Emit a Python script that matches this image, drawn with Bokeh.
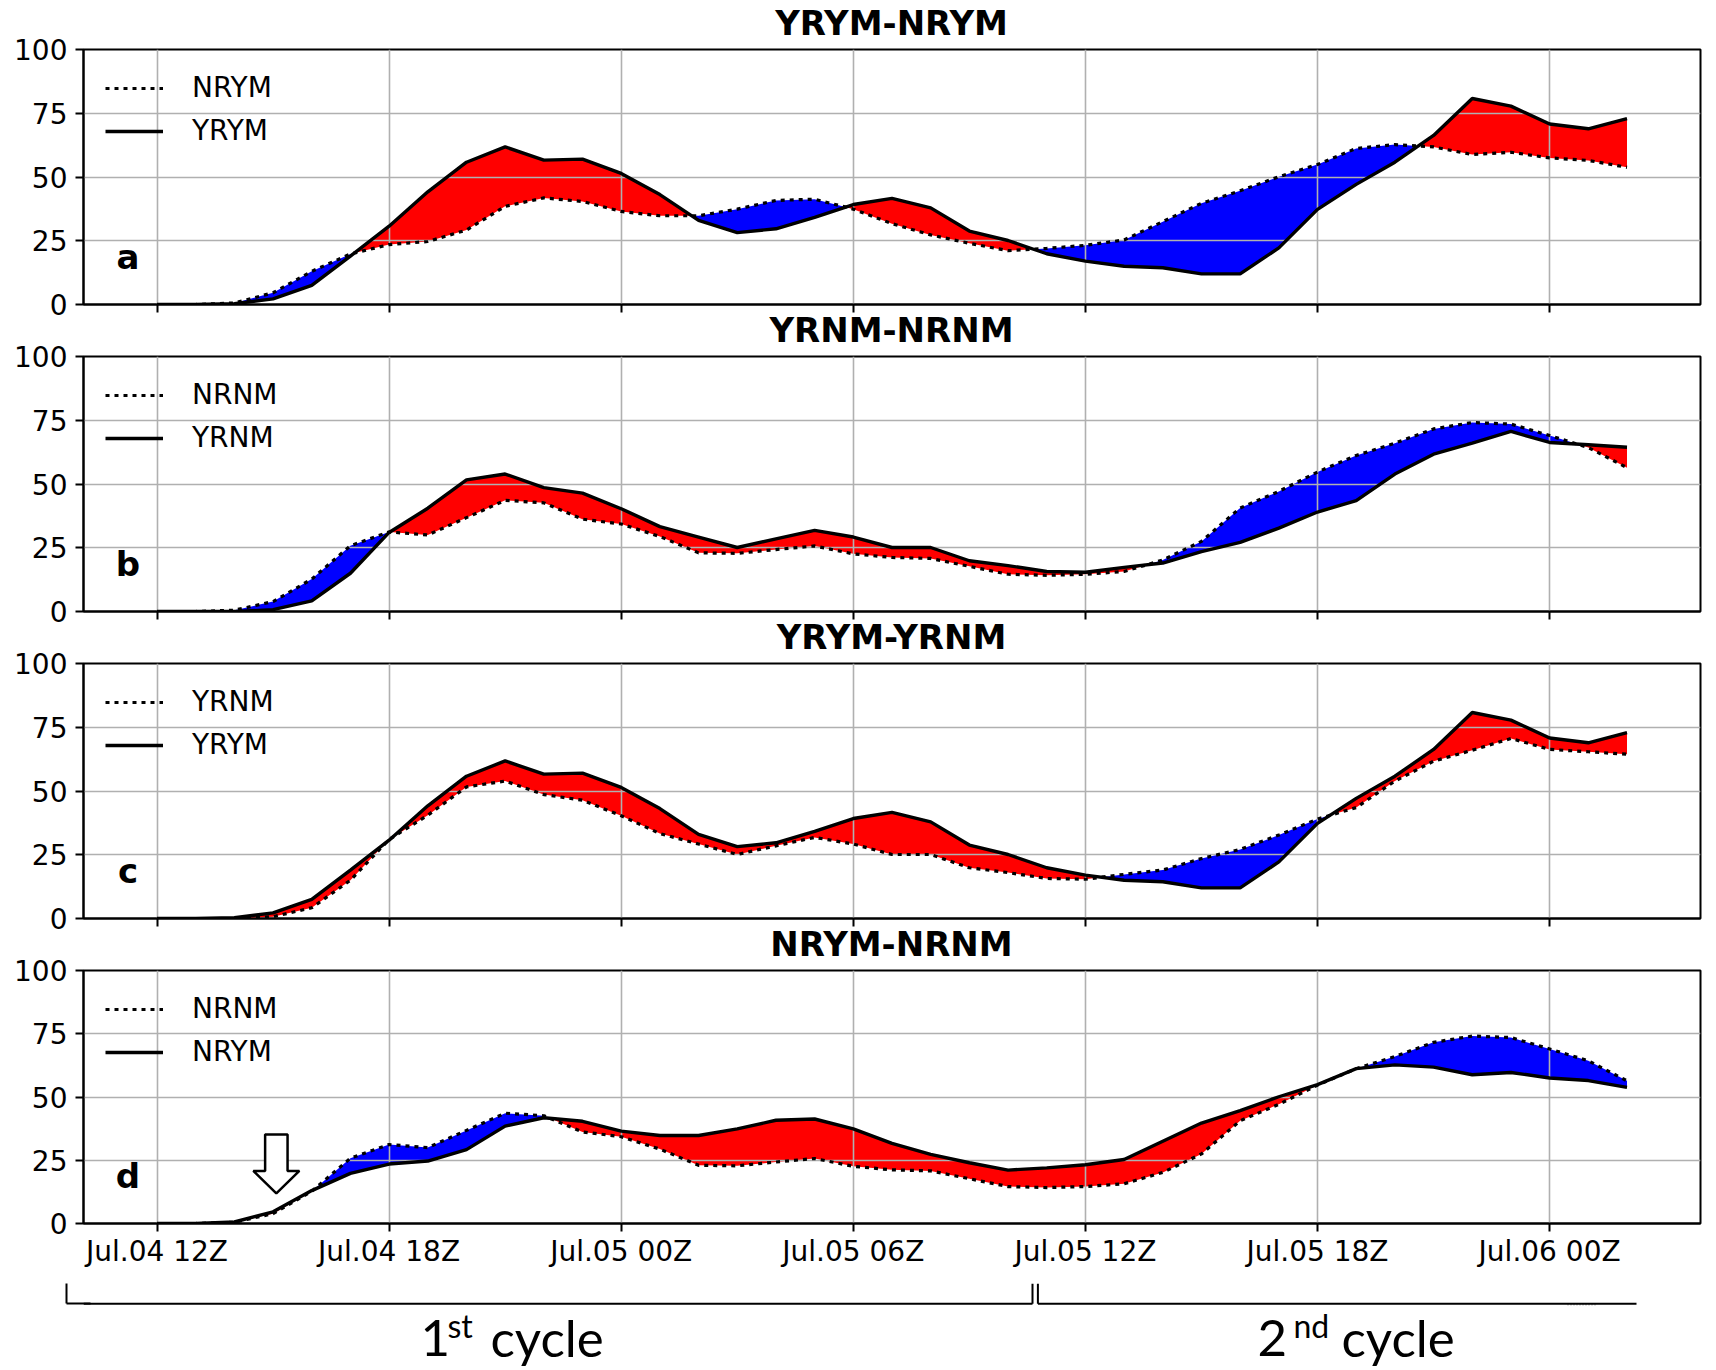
import numpy as np
from bokeh.plotting import figure
from bokeh.layouts import column
from bokeh.models import (Range1d, FixedTicker, Legend, LegendItem, Label,
                          Arrow, Div, Spacer, LinearAxis)
from bokeh.embed import file_html
from bokeh.resources import INLINE
from bokeh.core.properties import value

# ---------------- data (hourly, hours since Jul.04 12Z) ----------------
hours = list(range(39))
YRYM = [0, 0, 0.3, 2.2, 7.5, 19.0, 30.7, 44.2, 55.8, 61.8,
        56.6, 57.0, 51.4, 43.1, 33.0, 28.2, 29.7, 34.2, 39.2, 41.6,
        37.9, 28.8, 25.1, 19.9, 17.0, 15.0, 14.4, 12.0, 12.0, 22.2,
        37.3, 47.1, 55.8, 66.3, 80.8, 77.8, 70.8, 68.9, 72.9]
NRYM = [0, 0, 0.6, 4.6, 13.0, 19.8, 23.5, 24.7, 29.2, 38.5,
        41.8, 40.4, 36.5, 34.8, 34.8, 37.4, 40.8, 41.3, 37.4, 31.7,
        27.3, 24.0, 21.1, 22.0, 23.2, 25.3, 32.5, 39.7, 44.6, 50.1,
        54.9, 61.2, 62.7, 61.8, 58.8, 59.7, 57.5, 56.5, 53.8]
YRNM = [0, 0, 0, 0.7, 4.2, 15.0, 31.0, 40.5, 51.6, 53.9,
        48.6, 46.4, 40.3, 33.3, 29.2, 25.1, 28.5, 31.8, 29.2, 25.1,
        25.1, 19.9, 18.0, 15.7, 15.4, 17.3, 19.0, 23.5, 27.1, 32.7,
        39.0, 43.5, 53.9, 61.7, 66.0, 70.6, 66.3, 65.4, 64.4]
NRNM = [0, 0, 0.5, 3.9, 12.7, 25.8, 31.2, 30.0, 36.8, 43.6,
        42.6, 36.2, 34.3, 29.4, 23.0, 22.8, 24.3, 25.7, 22.6, 21.2,
        20.8, 17.7, 14.6, 14.2, 14.6, 15.7, 20.2, 27.5, 40.6, 47.1,
        54.7, 61.2, 66.0, 71.6, 74.1, 73.5, 69.0, 64.3, 56.4]

tick_hours = [0, 6, 12, 18, 24, 30, 36]
tick_labels = ["Jul.04 12Z", "Jul.04 18Z", "Jul.05 00Z", "Jul.05 06Z",
               "Jul.05 12Z", "Jul.05 18Z", "Jul.06 00Z"]
y_ticks = [0, 25, 50, 75, 100]

series = {"YRYM": YRYM, "NRYM": NRYM, "YRNM": YRNM, "NRNM": NRNM}
# (title, panel letter, solid series, dotted series)
panels = [("YRYM-NRYM", "a", "YRYM", "NRYM"),
          ("YRNM-NRNM", "b", "YRNM", "NRNM"),
          ("YRYM-YRNM", "c", "YRYM", "YRNM"),
          ("NRYM-NRNM", "d", "NRYM", "NRNM")]

cycle_labels = [("1", "st", "cycle"), ("2", "nd", "cycle")]

# ---------------- helpers ----------------
def split_fill(x, solid, dotted):
    xs, s, d = [x[0]], [solid[0]], [dotted[0]]
    for i in range(1, len(x)):
        d0 = solid[i - 1] - dotted[i - 1]
        d1 = solid[i] - dotted[i]
        if d0 * d1 < 0:
            t = d0 / (d0 - d1)
            xc = x[i - 1] + t * (x[i] - x[i - 1])
            yc = dotted[i - 1] + t * (dotted[i] - dotted[i - 1])
            xs.append(xc); s.append(yc); d.append(yc)
        xs.append(x[i]); s.append(solid[i]); d.append(dotted[i])
    return np.array(xs, float), np.array(s, float), np.array(d, float)


FONT = "DejaVu Sans"
W = 1716
BL, BR = 83, 16
FW = W - BL - BR
x_range = Range1d(-1.9, 39.9)
items = [Spacer(width=W, height=9, margin=0)]


def title_div(txt):
    html = ('<div style="width:%dpx;margin-left:%dpx;text-align:center;'
            'font-family:\'DejaVu Sans\';font-weight:bold;font-size:34px;'
            'line-height:29px;height:29px;color:black;white-space:nowrap;">'
            '%s</div>' % (FW, BL, txt))
    return Div(text=html, width=W, height=29, margin=0)


for k, (title, letter, sname, dname) in enumerate(panels):
    last = (k == len(panels) - 1)
    mt = 11
    mb = 45 if last else 12
    items.append(title_div(title))
    p = figure(width=W, height=mt + 255 + mb,
               x_range=x_range, y_range=Range1d(0, 100),
               output_backend="svg", toolbar_location=None,
               min_border_left=BL, min_border_right=BR,
               min_border_top=mt, min_border_bottom=mb)
    p.background_fill_color = "white"
    p.border_fill_color = "white"
    p.outline_line_color = "black"
    p.outline_line_width = 2
    p.outline_line_alpha = 1

    solid = series[sname]
    dotted = series[dname]
    xs, s, d = split_fill(hours, solid, dotted)
    r1 = p.varea(x=xs, y1=d, y2=np.maximum(s, d), fill_color="#ff0000")
    r2 = p.varea(x=xs, y1=np.minimum(s, d), y2=d, fill_color="#0000ff")
    r1.level = "image"
    r2.level = "image"

    ld = p.line(hours, dotted, line_color="black", line_width=3.2,
                line_dash="4 5")
    ls = p.line(hours, solid, line_color="black", line_width=3.4)

    # axes
    for ax in (p.xaxis[0], p.yaxis[0]):
        ax.axis_line_color = "black"
        ax.axis_line_width = 2
        ax.major_tick_line_width = 2
        ax.major_tick_out = 8
        ax.major_tick_in = 0
        ax.minor_tick_line_color = None
        ax.major_label_text_font = FONT
        ax.major_label_text_color = "black"
    p.yaxis.ticker = FixedTicker(ticks=y_ticks)
    p.yaxis.major_label_text_font_size = "28px"
    p.yaxis.major_label_standoff = 8
    p.xaxis.ticker = FixedTicker(ticks=tick_hours)
    if last:
        p.xaxis.major_label_overrides = {h: t for h, t in zip(tick_hours, tick_labels)}
        p.xaxis.major_label_text_font_size = "28px"
        p.xaxis.major_label_standoff = 3
    else:
        p.xaxis.major_label_text_font_size = "0px"
        p.xaxis.major_label_standoff = 0
        p.xaxis.major_label_overrides = {h: "" for h in tick_hours}

    p.xgrid.ticker = FixedTicker(ticks=tick_hours)
    p.ygrid.ticker = FixedTicker(ticks=y_ticks)
    p.grid.grid_line_color = "#b0b0b0"
    p.grid.grid_line_width = 1.6

    legend = Legend(items=[LegendItem(label=dname, renderers=[ld]),
                           LegendItem(label=sname, renderers=[ls])],
                    location="top_left", margin=22, padding=0,
                    spacing=10, glyph_width=58, glyph_height=28,
                    label_height=28, label_standoff=29,
                    border_line_color=None, background_fill_alpha=0,
                    label_text_font=FONT, label_text_font_size="28px",
                    label_text_color="black")
    p.add_layout(legend)

    p.add_layout(Label(x=-0.75, y=18.6, text=letter, text_align="center",
                       text_baseline="middle", text_font=FONT,
                       text_font_style="bold", text_font_size="34px",
                       text_color="black"))

    if letter == "d":
        ax_c, sw, hw = 3.085, 0.29, 0.595
        p.patch(x=[ax_c - sw, ax_c + sw, ax_c + sw, ax_c + hw, ax_c,
                   ax_c - hw, ax_c - sw],
                y=[35.2, 35.2, 20.8, 20.8, 11.9, 20.8, 20.8],
                fill_color="white", line_color="black", line_width=2.5)
    items.append(p)

# ---------------- bottom annotation (cycles); coords in page pixels ----------------
q = figure(width=W, height=100, x_range=Range1d(BL, W - BR),
           y_range=Range1d(100, 0), output_backend="svg",
           toolbar_location=None, x_axis_location=None,
           y_axis_location=None,
           min_border_left=BL, min_border_right=BR,
           min_border_top=0, min_border_bottom=0)
q.grid.visible = False
q.outline_line_color = None
q.background_fill_color = "white"
q.border_fill_color = "white"

# left end of the first bracket lies left of the frame: draw it with two
# left-side axes (an invisible spacer axis and a bounded axis line)
inner = LinearAxis(ticker=FixedTicker(ticks=[50]), major_tick_out=17,
                   major_tick_in=0, major_tick_line_color=None,
                   axis_line_color=None, minor_tick_line_color=None,
                   major_label_text_font_size="0px", major_label_standoff=0,
                   major_label_overrides={50: ""})
outer = LinearAxis(ticker=FixedTicker(ticks=[33.3]), bounds=(13.3, 33.3),
                   major_tick_out=0, major_tick_in=24,
                   major_tick_line_color="black", major_tick_line_width=2,
                   axis_line_color="black", axis_line_width=2,
                   minor_tick_line_color=None,
                   major_label_text_font_size="0px", major_label_standoff=0,
                   major_label_overrides={33.3: ""})
q.add_layout(inner, "left")
q.add_layout(outer, "left")

brackets = [(BL, 33.3, 1032, 33.3), (1032, 33.3, 1032, 13.3),
            (1037.4, 13.3, 1037.4, 33.3), (1037.4, 33.3, 1636, 33.3)]
for x0, y0, x1, y1 in brackets:
    q.add_layout(Arrow(x_start=x0, y_start=y0, x_end=x1, y_end=y1,
                       start=None, end=None, line_color="black",
                       line_width=2))
q.line(x=[1567, 1597], y=[34.2, 34.2], line_color="#999999",
       line_width=1.5, line_dash="1 2")

CF = "Lato"
big = "51px"
small = "32px"
pos = [(420.0, 447.0, 490.0), (1257.0, 1293.0, 1341.0)]
for (a, b, c), (xa, xb, xc) in zip(cycle_labels, pos):
    q.text(x=[xa], y=[67.0], text=[a], text_font=value(CF),
           text_font_size=big, text_baseline="middle",
           text_align="left", text_color="black")
    q.text(x=[xb], y=[54.6], text=[b], text_font=value(CF),
           text_font_size=small, text_baseline="middle",
           text_align="left", text_color="black")
    q.text(x=[xc], y=[67.0], text=[c], text_font=value(CF),
           text_font_size=big, text_baseline="middle",
           text_align="left", text_color="black")
items.append(q)

layout = column(*items, spacing=0)
open("out.html", "w").write(file_html(layout, INLINE))
